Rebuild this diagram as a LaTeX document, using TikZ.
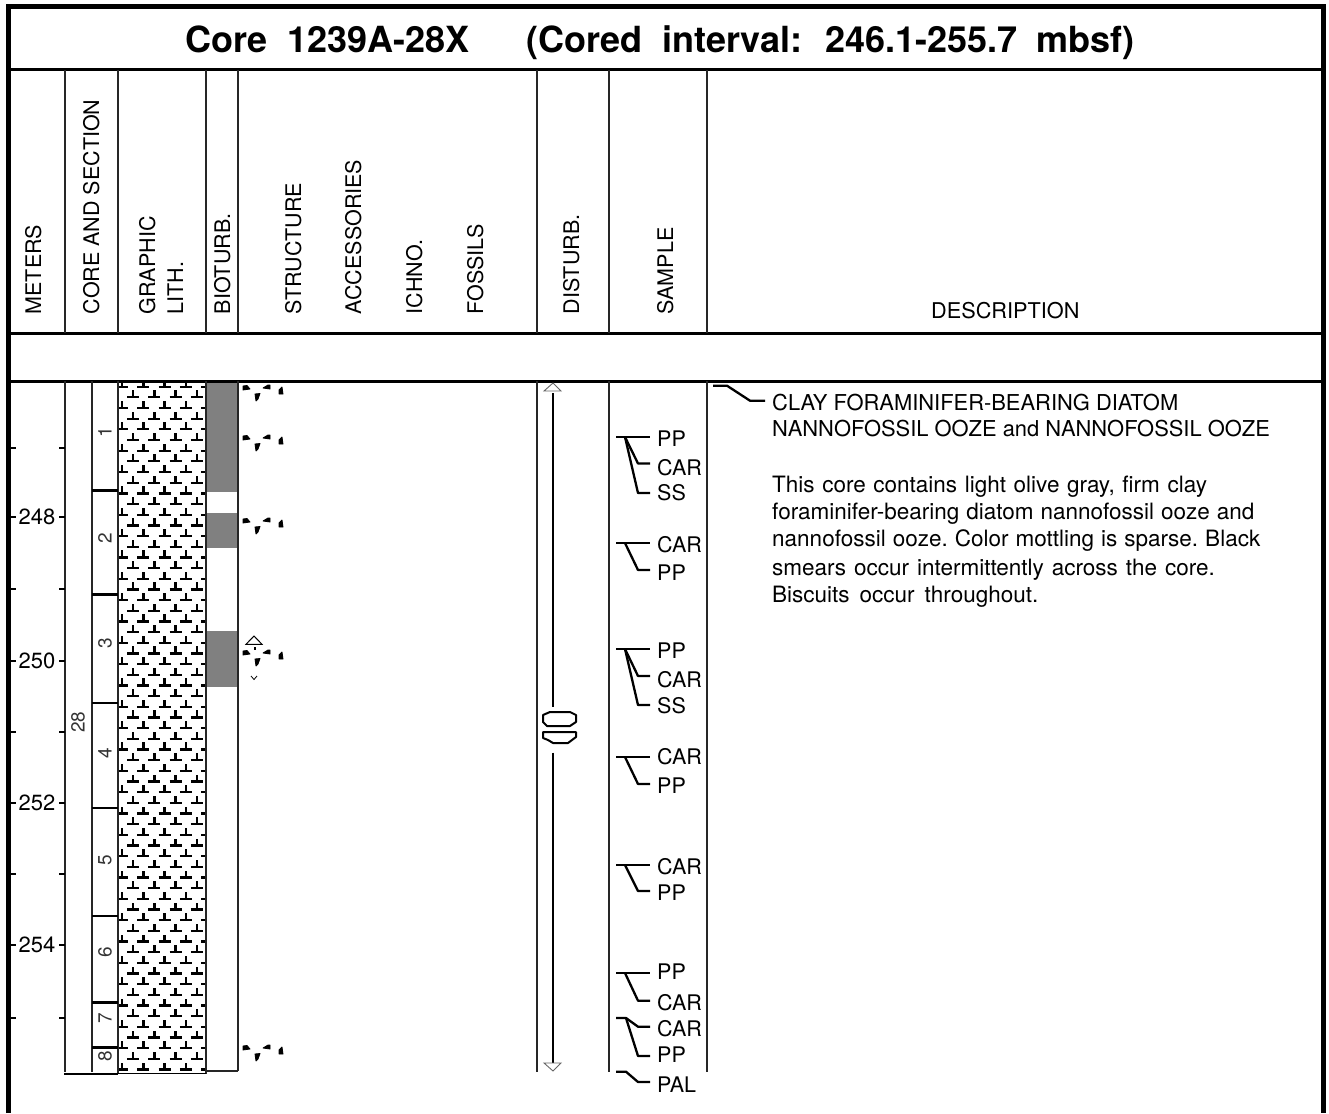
\documentclass[tikz,border=0pt]{standalone}
\usepackage{fontspec}
\setmainfont{TeX Gyre Heros}
\newcommand{\fs}[1]{\fontsize{#1pt}{#1pt}\selectfont}
\tikzset{
  x=1pt,y=-1pt,
  rule/.style={line width=3pt,black},
  colline/.style={line width=1.6pt,black!85},
  secline/.style={line width=2.2pt,black},
  tick/.style={line width=1.5pt,black},
  leader/.style={line width=2.3pt,black,line join=round},
  head/.style={rotate=90,anchor=base west,inner sep=0pt,font=\fs{21.5}},
  lbl/.style={anchor=base west,inner sep=0pt,font=\fs{21.5}},
  sec/.style={rotate=90,inner sep=0pt,font=\fs{19},text=black!80},
  depth/.style={inner sep=0pt,font=\fs{22}},
  desc/.style={anchor=base west,inner sep=0pt,font=\fs{21.9}},
  descl/.style={anchor=base west,inner sep=0pt,font=\fs{22.5}\frenchspacing},
  bio/.pic={
    \filldraw[line width=0.8pt,line join=round] (243,386) -- (247,385.5) -- (250,389) -- (243,390) -- cycle;
    \filldraw[line width=0.8pt,line join=round] (255,394) -- (260,393.5) -- (258,399) -- (256,401) -- cycle;
    \filldraw[line width=0.8pt,line join=round] (263,388) -- (268,385) -- (270,385) -- (270,389) -- cycle;
    \filldraw[line width=0.8pt,line join=round] (279,390) -- (282,387) -- (283,394) -- (279,394) -- cycle;
  },
  tsym/.pic={
    \draw[line width=2.2pt] (-6,0) -- (6,0);
    \draw[line width=2.4pt] (0,0) -- (0,-7);
  }
}
\begin{document}
\begin{tikzpicture}
\useasboundingbox (0,0) rectangle (1329,1113);
% hatch
\begin{scope}
\clip (118,381) rectangle (206,1074);
\foreach \r in {0,...,64}{
  \pgfmathsetmacro{\yy}{386.7+10.67*\r}
  \pgfmathsetmacro{\xo}{isodd(\r)?133:122}
  \foreach \c in {0,...,4}{
    \pgfmathsetmacro{\xx}{\xo+21.33*\c}
    \pic at (\xx,\yy) {tsym};
  }
}
\end{scope}
% bioturbation fill
\fill[gray] (207,381) rectangle (238,491.5);
\fill[gray] (207,513) rectangle (238,548);
\fill[gray] (207,631) rectangle (238,687);
% frame
\draw[line width=5pt] (8.5,1113) -- (8.5,6.5) -- (1323.5,6.5) -- (1323.5,1113);
\draw[rule] (11,69.5) -- (1321,69.5);
\draw[rule] (11,333) -- (1321,333);
\draw[rule] (11,381) -- (1321,381);
% header verticals
\foreach \xx in {65,118,206,238,537,609,707}{
  \draw[colline] (\xx,70) -- (\xx,333);
}
% body verticals
\draw[colline] (65,381) -- (65,1072);
\draw[colline] (92,381) -- (92,1072);
\draw[colline] (118,381) -- (118,1074);
\draw[colline] (206,381) -- (206,1074);
\draw[colline] (238,381) -- (238,1071);
\draw[colline] (206,1071) -- (238,1071);
\draw[colline] (537,381) -- (537,1072);
\draw[colline] (609,381) -- (609,1072);
\draw[colline] (707,381) -- (707,1072);
\draw[line width=2pt] (64,1074) -- (118,1074);
\draw[line width=1.5pt] (118,1073.5) -- (206,1073.5);
% section lines
\foreach \yy in {490.5,594.5,703,808,916,1002.5,1047.5}{
  \draw[secline] (92,\yy) -- (118,\yy);
}
% ticks
\foreach \yy in {448,517,589,661,732,803,874,945,1018}{
  \draw[tick] (11,\yy) -- (16,\yy);
  \draw[tick] (59,\yy) -- (65,\yy);
}
% title
\node[anchor=west,inner sep=0pt,font=\fs{36}\bfseries] (title) at (185,43) {Core\hspace{10pt} 1239A-28X\hspace{57pt}(Cored\hspace{9.5pt} interval:\hspace{9.5pt} 246.1-255.7\hspace{9.5pt} mbsf)};
% headers
\node[head] (hmeters) at (41,314.5) {METERS};
\node[head] (hcore) at (99,314.5) {CORE AND SECTION};
\node[head] (hgraph) at (155,314.5) {GRAPHIC};
\node[head] (hlith) at (183,314.5) {LITH.};
\node[head] (hbio) at (230,314.5) {BIOTURB.};
\node[head] (hstruct) at (301,314.5) {STRUCTURE};
\node[head] (hacc) at (361,314.5) {ACCESSORIES};
\node[head] (hichno) at (422,314.5) {ICHNO.};
\node[head] (hfoss) at (483,314.5) {FOSSILS};
\node[head] (hdist) at (579,314.5) {DISTURB.};
\node[head] (hsample) at (673,314.5) {SAMPLE};
\node[lbl,font=\fs{21.7}] (hdesc) at (931,318.5) {DESCRIPTION};
% depth labels
\node[depth] (d248) at (37,517) {248};
\node[depth] (d250) at (37,661) {250};
\node[depth] (d252) at (37,803) {252};
\node[depth] (d254) at (37,945) {254};
% section labels
\node[sec] (s1) at (105,432) {1};
\node[sec] (s2) at (105,538) {2};
\node[sec] (s3) at (105,643) {3};
\node[sec] (s4) at (105,753) {4};
\node[sec] (s5) at (105,860) {5};
\node[sec] (s6) at (105,952) {6};
\node[sec] (s7) at (105,1018) {7};
\node[sec] (s8) at (105,1056) {8};
\node[sec] (s28) at (78,722) {28};
% bioturb symbols
\foreach \d in {0,50,133,265,660}{
  \pic at (0,\d) {bio};
}
% structure
\draw[line width=1pt] (254,636) -- (246,644.3) -- (262,644.3) -- cycle;
\fill (253.5,647) rectangle (256,649.5);
\draw[line width=0.8pt] (251,676) -- (254,679.5) -- (257,676);
% disturbance
\draw[line width=2.5pt] (553,393) -- (553,707);
\draw[line width=2.5pt] (553,752.5) -- (553,1063);
\draw[line width=0.9pt,black!60] (553,383) -- (544,391) -- (561,391) -- cycle;
\draw[line width=0.9pt,black!60] (553,1071) -- (544,1063) -- (561,1063) -- cycle;
% biscuits
\draw[line width=2pt,line join=round] (543,715) -- (550,712) -- (570,712) -- (576,715) -- (576,722) -- (570,726) -- (547,726) -- (543,722) -- cycle;
\draw[line width=2pt,line join=round] (543,732) -- (576,732) -- (576,737) -- (568,743) -- (553,743) -- (548,740) -- (543,738) -- cycle;
% samples
\begin{scope}[leader]
\draw (616,437) -- (650,437);
\draw (625,437) -- (638,463.5) -- (650,463.5);
\draw (625,437) -- (638,493) -- (650,493);
\draw (616,543) -- (650,543);
\draw (625,543) -- (638,570) -- (650,570);
\draw (616,649) -- (650,649);
\draw (625,649) -- (638,676) -- (650,676);
\draw (625,649) -- (638,705) -- (650,705);
\draw (616,757) -- (650,757);
\draw (625,757) -- (638,784) -- (650,784);
\draw (616,865) -- (650,865);
\draw (625,865) -- (638,891) -- (650,891);
\draw (616,973) -- (650,973);
\draw (625,973) -- (638,1000.7) -- (650,1000.7);
\draw (616,1018) -- (626,1018) -- (638,1026.7) -- (650,1026.7);
\draw (626,1018) -- (638,1056) -- (650,1056);
\draw (616,1071.7) -- (626,1071.7) -- (638,1082) -- (650,1082);
\draw (713,385.7) -- (727,385.7) -- (750,400.7) -- (765,400.7);
\end{scope}
\foreach \n/\t/\yy in {a/PP/446,b/CAR/475,c/SS/500,e/CAR/552,f/PP/580,g/PP/658,h/CAR/687,i/SS/713,j/CAR/764,k/PP/793,l/CAR/874,m/PP/900,n/PP/979,o/CAR/1010,p/CAR/1036,q/PP/1062,r/PAL/1092}{
  \node[lbl] (samp\n) at (657,\yy) {\t};
}
% description
\node[desc] (t1) at (772,410) {CLAY FORAMINIFER-BEARING DIATOM};
\node[desc] (t2) at (772,436) {NANNOFOSSIL OOZE and NANNOFOSSIL OOZE};
\node[descl] (t3) at (772,492) {\spaceskip=7.6pt This core contains light olive gray, firm clay};
\node[descl] (t4) at (772,519) {\spaceskip=7pt foraminifer-bearing diatom nannofossil ooze and};
\node[descl] (t5) at (772,546) {\spaceskip=7pt nannofossil ooze. Color mottling is sparse. Black};
\node[descl] (t6) at (772,575) {\spaceskip=8pt smears occur intermittently across the core.};
\node[descl] (t7) at (772,602) {\spaceskip=10pt Biscuits occur throughout.};
\end{tikzpicture}
\end{document}
